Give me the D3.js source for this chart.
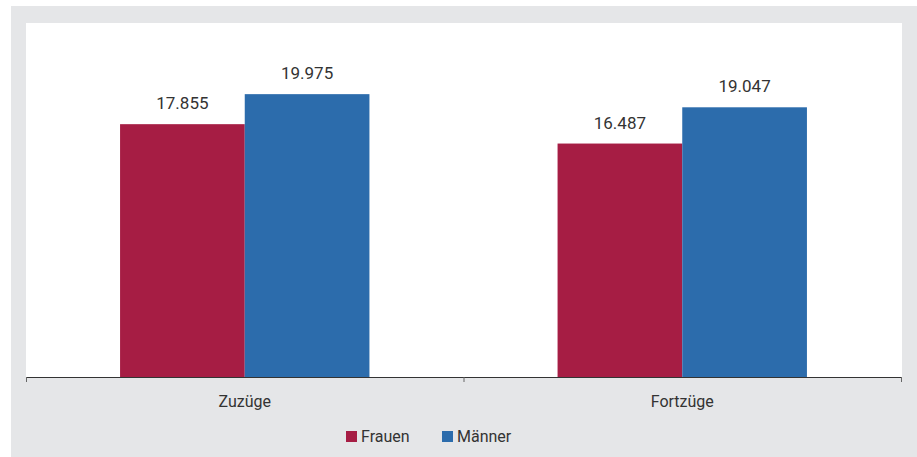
<!DOCTYPE html>
<html>
<head>
<meta charset="utf-8">
<script src="https://cdn.jsdelivr.net/npm/d3@7"></script>
<style>
  body { margin: 0; background: #fff; }
  svg { display: block; font-family: Roboto, 'Open Sans', sans-serif; }
</style>
</head>
<body>
<svg id="chart" width="917" height="457"></svg>
<script>
const categories = ['Zuzüge', 'Fortzüge'];
const seriesNames = ['Frauen', 'Männer'];
const frauen = [17.855, 16.487];
const maenner = [19.975, 19.047];
const valueLabels = [['17.855', '19.975'], ['16.487', '19.047']];

const colors = ['#a61d44', '#2c6cac'];
const series = [frauen, maenner];

const svg = d3.select('#chart');

// grey frame + white plot panel
svg.append('rect').attr('x', 11).attr('y', 6).attr('width', 906).attr('height', 451).attr('fill', '#e5e6e8');
svg.append('rect').attr('x', 26).attr('y', 23).attr('width', 876).attr('height', 354).attr('fill', '#fff');

const x0 = d3.scaleBand().domain(categories).range([26, 901]).padding(0);
const x1 = d3.scaleBand().domain(seriesNames)
    .range([x0.bandwidth() * 0.215, x0.bandwidth() * 0.785]).padding(0);
const y = d3.scaleLinear().domain([0, 25]).range([377, 23]);

const groups = svg.append('g')
    .selectAll('g')
    .data(categories)
    .join('g')
    .attr('transform', (d) => 'translate(' + x0(d) + ',0)');

groups.each(function (cat, ci) {
    const g = d3.select(this);
    seriesNames.forEach((s, si) => {
        const v = series[si][ci];
        g.append('rect')
            .attr('x', x1(s))
            .attr('y', y(v))
            .attr('width', x1.bandwidth())
            .attr('height', y(0) - y(v))
            .attr('fill', colors[si]);
        g.append('text')
            .attr('x', x1(s) + x1.bandwidth() / 2)
            .attr('y', y(v) - 15)
            .attr('text-anchor', 'middle')
            .style('font-size', '17px')
            .style('fill', '#333')
            .text(valueLabels[ci][si]);
    });
});

// x axis
const axis = svg.append('g');
axis.append('line')
    .attr('x1', 26).attr('x2', 902).attr('y1', 377.5).attr('y2', 377.5)
    .attr('stroke', '#333').attr('stroke-width', 1.2);
const tickPos = [x0.range()[0], x0(categories[1]), x0.range()[1]];
axis.selectAll('.tick')
    .data(tickPos)
    .join('line')
    .attr('x1', (d) => d + 0.5).attr('x2', (d) => d + 0.5)
    .attr('y1', 377).attr('y2', 382)
    .attr('stroke', '#666').attr('stroke-width', 1);
axis.selectAll('.cat')
    .data(categories)
    .join('text')
    .attr('x', (d) => x0(d) + x0.bandwidth() / 2)
    .attr('y', 407)
    .attr('text-anchor', 'middle')
    .style('font-size', '16px')
    .style('fill', '#333')
    .text((d) => d);

// legend
const legend = svg.append('g');
const legendX = [346, 442];
seriesNames.forEach((s, i) => {
    legend.append('rect')
        .attr('x', legendX[i]).attr('y', 431)
        .attr('width', 11).attr('height', 11)
        .attr('fill', colors[i]);
    legend.append('text')
        .attr('x', legendX[i] + 15).attr('y', 442)
        .style('font-size', '16px')
        .style('fill', '#333')
        .text(s);
});
</script>
</body>
</html>
